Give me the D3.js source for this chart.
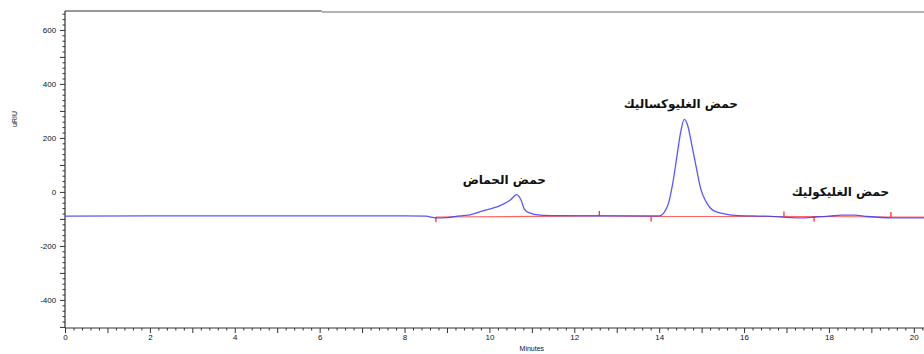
<!DOCTYPE html>
<html>
<head>
<meta charset="utf-8">
<script src="https://cdn.jsdelivr.net/npm/d3@7"></script>
<style>
    body { margin: 0; background: #fff; }
    svg { display: block; }
    .tick-label { font-family: "Liberation Sans", Arial, sans-serif; font-size: 8px; fill: #111; }
    .peak-label { font-family: "DejaVu Sans", sans-serif; font-weight: bold; font-size: 12px; fill: #111; }
</style>
</head>
<body>
<svg id="chart" width="924" height="354"></svg>
<script>
// Detector trace (minutes, uRIU)
const times = [0, 2, 4, 6, 8, 8.5, 8.75, 9.0, 9.3, 9.5, 9.85, 10.25, 10.5, 10.64, 10.75,
    10.82, 10.94, 11.2, 11.6, 12.5, 13.5, 14.0, 14.2, 14.31, 14.41, 14.51, 14.59, 14.67,
    14.77, 14.88, 14.98, 15.11, 15.29, 15.57, 15.8, 16.5, 17.3, 17.7, 18.0, 18.3, 18.6,
    18.9, 19.5, 20.24];
const values = [-90, -89, -89, -89, -89, -90, -96, -95, -89, -86, -70, -51, -29, -10, -32,
    -63, -78, -86, -88, -89, -89, -89, -51, 23, 123, 224, 269, 247,
    173, 86, 11, -38, -70, -82, -87, -90, -96, -93, -90, -86, -86,
    -91, -96, -96];

// Integration baseline with its event marks (+1 up, -1 down)
const baseTimes = [8.74, 12.59, 13.81, 16.94, 17.65, 19.46, 20.24];
const baseValues = [-93, -89, -91, -91, -91, -93, -93];
const baseMarks = [-1, 1, -1, 1, -1, 1, 0];

// Peak names
const peakNames = ["حمض الحماض", "حمض الغليوكساليك", "حمض الغليكوليك"];
const peakTimes = [10.35, 14.51, 18.27];
const peakValues = [30, 312, -16];

const xLabels = [0, 2, 4, 6, 8, 10, 12, 14, 16, 18, 20];
const yLabels = [-400, -200, 0, 200, 400, 600];

const svg = d3.select("#chart");
const plot = {left: 65, right: 924, top: 11, bottom: 328};

const x = d3.scaleLinear().domain([0, 20.24]).range([plot.left, plot.right]);
const y = d3.scaleLinear().domain([-504, 670]).range([plot.bottom, plot.top]);

// X axis: labels every 2 min, ticks every minute, minor every 0.2
const xMinor = d3.range(0, 20.21, 0.2).filter(t => Math.abs(t - Math.round(t)) > 0.01);
const xMajor = d3.range(0, 21, 1);

svg.append("g")
    .attr("transform", `translate(0,${plot.bottom})`)
    .call(d3.axisBottom(x).tickValues(xMinor).tickSize(2.5).tickFormat(""))
    .call(g => g.select(".domain").remove())
    .selectAll("line").attr("stroke", "#333");

svg.append("g")
    .attr("transform", `translate(0,${plot.bottom})`)
    .call(d3.axisBottom(x).tickValues(xMajor).tickSize(5)
        .tickFormat(d => xLabels.includes(d) ? d : ""))
    .call(g => g.select(".domain").remove())
    .call(g => g.selectAll("line").attr("stroke", "#333"))
    .call(g => g.selectAll("text").attr("class", "tick-label").attr("dy", "0.5em"));

// Y axis: labels every 200, ticks every 100, minor every 20
const yMinor = d3.range(-500, 670, 20).filter(v => v % 100 !== 0);
const yMajor = d3.range(-500, 670, 100);

svg.append("g")
    .attr("transform", `translate(${plot.left},0)`)
    .call(d3.axisLeft(y).tickValues(yMinor).tickSize(2.5).tickFormat(""))
    .call(g => g.select(".domain").remove())
    .selectAll("line").attr("stroke", "#333");

svg.append("g")
    .attr("transform", `translate(${plot.left},0)`)
    .call(d3.axisLeft(y).tickValues(yMajor).tickSize(5)
        .tickFormat(d => yLabels.includes(d) ? d : ""))
    .call(g => g.select(".domain").remove())
    .call(g => g.selectAll("line").attr("stroke", "#333"))
    .call(g => g.selectAll("text").attr("class", "tick-label").attr("dx", "-0.1em"));

// Frame lines
svg.append("line").attr("x1", plot.left).attr("x2", plot.left)
    .attr("y1", plot.top).attr("y2", plot.bottom)
    .attr("stroke", "#333").attr("stroke-width", 1.2);
svg.append("line").attr("x1", plot.left).attr("x2", plot.right)
    .attr("y1", plot.bottom).attr("y2", plot.bottom)
    .attr("stroke", "#333").attr("stroke-width", 1.2);
svg.append("line").attr("x1", plot.left).attr("x2", x(6.05))
    .attr("y1", plot.top).attr("y2", plot.top)
    .attr("stroke", "#333").attr("stroke-width", 1);
svg.append("line").attr("x1", x(6.05)).attr("x2", plot.right)
    .attr("y1", plot.top + 1).attr("y2", plot.top + 1)
    .attr("stroke", "#999").attr("stroke-width", 1.5);

// Axis titles
svg.append("text")
    .attr("class", "tick-label")
    .attr("transform", `translate(17,${y(270)}) rotate(-90)`)
    .attr("text-anchor", "middle")
    .style("font-size", "7px")
    .text("uRIU");

svg.append("text")
    .attr("class", "tick-label")
    .attr("x", x(11.0)).attr("y", 351)
    .attr("text-anchor", "middle")
    .style("font-size", "7px")
    .text("Minutes");

// Baseline (red) drawn first, trace over it
const baseLine = d3.line()
    .x((d, i) => x(baseTimes[i]))
    .y(d => y(d));

svg.append("path")
    .datum(baseValues)
    .attr("d", baseLine)
    .attr("fill", "none")
    .attr("stroke", "#ff3030")
    .attr("stroke-opacity", 0.75)
    .attr("stroke-width", 1.2);

svg.append("g").selectAll("line")
    .data(baseMarks.map((m, i) => ({m, t: baseTimes[i], v: baseValues[i]})).filter(d => d.m !== 0))
    .join("line")
    .attr("x1", d => x(d.t)).attr("x2", d => x(d.t))
    .attr("y1", d => y(d.v))
    .attr("y2", d => y(d.v) - d.m * 5)
    .attr("stroke", "#ff2020")
    .attr("stroke-width", 1.2);

const trace = d3.line()
    .x((d, i) => x(times[i]))
    .y(d => y(d))
    .curve(d3.curveMonotoneX);

svg.append("path")
    .datum(values)
    .attr("d", trace)
    .attr("fill", "none")
    .attr("stroke", "#3b3bff")
    .attr("stroke-opacity", 0.85)
    .attr("stroke-width", 1.3);

// Peak names
svg.append("g").selectAll("text")
    .data(peakNames)
    .join("text")
    .attr("class", "peak-label")
    .attr("direction", "rtl")
    .attr("text-anchor", "middle")
    .attr("x", (d, i) => x(peakTimes[i]))
    .attr("y", (d, i) => y(peakValues[i]))
    .text(d => d);
</script>
</body>
</html>
